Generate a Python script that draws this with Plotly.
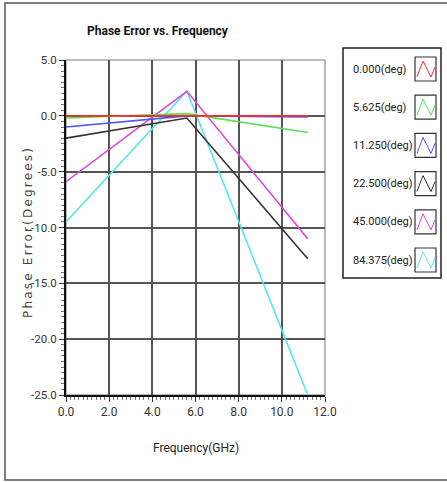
import plotly.graph_objects as go

# ---- data ----
freq_ghz = [0.0, 5.6, 11.2]
series_names = ["0.000(deg)", "5.625(deg)", "11.250(deg)", "22.500(deg)", "45.000(deg)", "84.375(deg)"]
err_000 = [0.0, 0.0, 0.0]
err_5625 = [-0.2, 0.2, -1.5]
err_1125 = [-1.0, 0.0, -0.1]
err_2250 = [-2.0, -0.2, -12.8]
err_4500 = [-5.9, 2.2, -11.0]
err_84375 = [-9.5, 2.2, -25.0]
series_values = [err_000, err_5625, err_1125, err_2250, err_4500, err_84375]
x_ticks = [0, 2, 4, 6, 8, 10, 12]
x_tick_labels = ["0.0", "2.0", "4.0", "6.0", "8.0", "10.0", "12.0"]
y_ticks = [5, 0, -5, -10, -15, -20, -25]
y_tick_labels = ["5.0", "0.0", "-5.0", "-10.0", "-15.0", "-20.0", "-25.0"]

colors = ["#ff2a2a", "#55e055", "#4a55ff", "#333333", "#e045e0", "#55e8e8"]

W, H = 447, 482
L, R, T, B = 66, 325, 60, 395  # plot area in pixels

def px_x(p):
    return (p - L) / (R - L)

def px_y(p):
    return (B - p) / (B - T)

NARROW = "Liberation Sans Narrow, Arial Narrow, Roboto, sans-serif"

fig = go.Figure()
# draw in reverse order so red ends up on top
for name, vals, col in reversed(list(zip(series_names, series_values, colors))):
    fig.add_trace(go.Scatter(x=freq_ghz, y=vals, mode="lines", name=name,
                             line=dict(color=col, width=1.6), showlegend=False))

shapes = []
annotations = []
# outer frame
shapes.append(dict(type="rect", xref="paper", yref="paper",
                   x0=px_x(5), x1=px_x(452), y0=px_y(480), y1=px_y(3),
                   line=dict(color="#555555", width=1.5), layer="below"))
# plot border (top/right)
shapes.append(dict(type="rect", xref="paper", yref="paper", x0=0, x1=1, y0=0, y1=1,
                   line=dict(color="#777777", width=1), layer="below"))
# custom legend box
shapes.append(dict(type="rect", xref="paper", yref="paper",
                   x0=px_x(343), x1=px_x(441), y0=px_y(278), y1=px_y(48),
                   line=dict(color="#222222", width=1.5)))
for i, (name, col) in enumerate(zip(series_names, colors)):
    cy = 69 + 38.2 * i
    annotations.append(dict(xref="paper", yref="paper", x=px_x(351), y=px_y(cy),
                            text=name, showarrow=False, xanchor="left", yanchor="middle",
                            font=dict(family=NARROW, size=11, color="#222222")))
    bx0, bx1, by0, by1 = 415, 436, cy - 12, cy + 12
    shapes.append(dict(type="rect", xref="paper", yref="paper",
                       x0=px_x(bx0), x1=px_x(bx1), y0=px_y(by1), y1=px_y(by0),
                       line=dict(color="#333333", width=1.2)))
    pts = [(bx0 + 2, by1 - 4), (bx0 + 8, by0 + 4), (bx0 + 16, by1 - 4), (bx1 - 1, by0 + 10)]
    path = "M " + " L ".join(f"{px_x(a):.5f},{px_y(b):.5f}" for a, b in pts)
    shapes.append(dict(type="path", xref="paper", yref="paper", path=path,
                       line=dict(color=col, width=1)))

# title
annotations.append(dict(xref="paper", yref="paper", x=px_x(158), y=px_y(31),
                        text="<b>Phase Error vs. Frequency</b>", showarrow=False,
                        xanchor="center", yanchor="middle",
                        font=dict(family=NARROW, size=12, color="#111111")))
# axis titles
annotations.append(dict(xref="paper", yref="paper", x=px_x(196), y=px_y(448),
                        text="Frequency(GHz)", showarrow=False,
                        xanchor="center", yanchor="middle",
                        font=dict(family=NARROW, size=12, color="#222222")))
annotations.append(dict(xref="paper", yref="paper", x=px_x(28), y=px_y(232),
                        text="Phase Error(Degrees)", showarrow=False, textangle=-90,
                        xanchor="center", yanchor="middle",
                        font=dict(family="DejaVu Sans", size=12, color="#444444")))

fig.update_layout(
    width=W, height=H,
    margin=dict(l=L, r=W - R, t=T, b=H - B),
    paper_bgcolor="white", plot_bgcolor="white",
    shapes=shapes, annotations=annotations,
    xaxis=dict(range=[0, 12], tickvals=x_ticks, ticktext=x_tick_labels,
               showgrid=True, gridcolor="#555555", gridwidth=1.5,
               showline=True, linecolor="#111111", linewidth=2,
               ticks="outside", ticklen=5, tickcolor="#333333",
               minor=dict(dtick=0.2, ticks="outside", ticklen=3, tickcolor="#777777", showgrid=False),
               tickfont=dict(family=NARROW, size=12, color="#333333"),
               zeroline=False),
    yaxis=dict(range=[-25, 5], tickvals=y_ticks, ticktext=y_tick_labels,
               showgrid=True, gridcolor="#555555", gridwidth=2,
               showline=True, linecolor="#111111", linewidth=2,
               ticks="outside", ticklen=5, tickcolor="#333333",
               minor=dict(dtick=0.5, ticks="outside", ticklen=3, tickcolor="#777777", showgrid=False),
               tickfont=dict(family=NARROW, size=11.5, color="#333333"),
               zeroline=False),
)

post = """
document.querySelectorAll('text').forEach(function(t){
  if (t.textContent === 'Phase Error(Degrees)') { t.style.letterSpacing = '2.2px'; }
});
"""
fig.write_html("out.html", post_script=post)
